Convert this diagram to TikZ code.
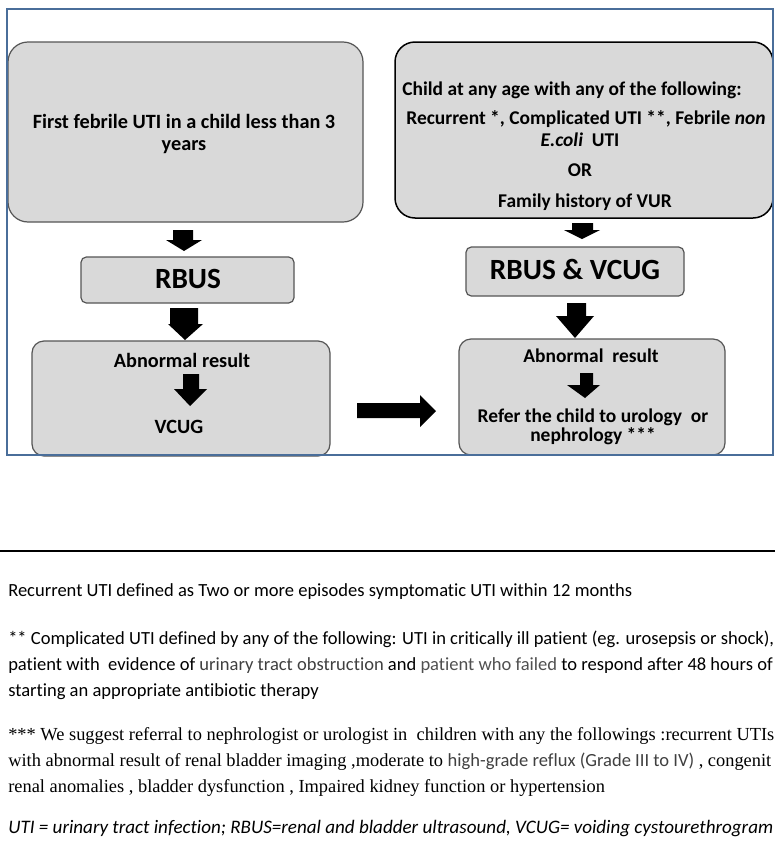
\documentclass[tikz,border=0pt]{standalone}
\usepackage{fontspec}
\setmainfont{Carlito}[Ligatures=NoCommon]
\newfontfamily\timesf{Liberation Serif}
\newdimen\pxu \pxu=0.75pt
\definecolor{boxfill}{HTML}{D9D9D9}
\definecolor{frameblue}{HTML}{4A6E9A}
\definecolor{boxline}{HTML}{555555}
\definecolor{softgray}{HTML}{404040}
\definecolor{midgray}{HTML}{505050}
\tikzset{
  flowbox/.style={draw=boxline, fill=boxfill, line width=1.2\pxu, anchor=north west, inner sep=0pt, outer sep=0pt},
  bigtxt/.style={anchor=base, inner sep=0pt, font=\fontsize{15.2}{18}\selectfont\bfseries},
  midtxt/.style={anchor=base, inner sep=0pt, font=\fontsize{14.6}{17}\selectfont\bfseries},
  hugetxt/.style={anchor=base, inner sep=0pt, font=\fontsize{22}{25}\selectfont\bfseries},
  notetxt/.style={anchor=base west, inner sep=0pt, font=\fontsize{13.9}{16}\selectfont},
  serifnote/.style={anchor=base west, inner sep=0pt, font=\fontsize{13.8}{16}\selectfont\timesf},
}
\newcommand\barrdown[8]{\fill[black] (#1,#3) -- (#2,#3) -- (#2,#4) -- (#6,#4) -- (#7,#8) -- (#5,#4) -- (#1,#4) -- cycle;}
\begin{document}
\begin{tikzpicture}[x=0.75pt,y=-0.75pt]
\useasboundingbox (0,0) rectangle (775,864);
\fill[white] (0,0) rectangle (775,864);

% boxes
\node[flowbox, rounded corners=15pt, minimum width=355\pxu, minimum height=180\pxu] (b1) at (8,42) {};
\node[flowbox, rounded corners=4pt, minimum width=213\pxu, minimum height=46\pxu] (b2) at (81,257) {};
\node[flowbox, rounded corners=9pt, minimum width=298\pxu, minimum height=115\pxu] (b3) at (32,341) {};
\node[flowbox, draw=black, line width=1.5\pxu, rounded corners=15pt, minimum width=378\pxu, minimum height=176\pxu] (b4) at (395,42) {};
\node[flowbox, rounded corners=4pt, minimum width=218\pxu, minimum height=49\pxu] (b5) at (466,247) {};
\node[flowbox, rounded corners=9pt, minimum width=266\pxu, minimum height=116\pxu] (b6) at (459,339) {};

% left column texts
\node[bigtxt] (t1) at (184,128) {First febrile UTI in a child less than 3};
\node[bigtxt] (t2) at (184,150) {years};
\node[hugetxt] (t3) at (188,288) {RBUS};
\node[bigtxt] (t4) at (182,367) {Abnormal result};
\node[bigtxt] (t5) at (179,433) {VCUG};

% right column texts
\node[midtxt] (r1) at (572,95) {Child at any age with any of the following:};
\node[midtxt] (r2) at (586,124) {Recurrent *, Complicated UTI **, Febrile \textit{non}};
\node[midtxt] (r3) at (580,146) {\textit{E.coli}\ \ UTI};
\node[midtxt] (r4) at (580,176) {OR};
\node[midtxt] (r5) at (585,207) {Family history of VUR};
\node[hugetxt] (r6) at (575,279) {RBUS \& VCUG};
\node[midtxt] (r7) at (591,362) {Abnormal\ \ result};
\node[midtxt] (r8) at (593,422) {Refer the child to urology\ \ or};
\node[midtxt] (r9) at (593,441) {nephrology ***};

% block arrows
\barrdown{173}{193}{230}{240}{166}{202}{184}{251}
\barrdown{170}{198}{308}{324}{168}{203}{185}{340}
\barrdown{183}{199}{374}{389}{174}{207}{190}{406}
\barrdown{572}{593}{223}{230}{564}{600}{582}{239}
\barrdown{567}{586}{303}{316}{556}{594}{575}{338}
\barrdown{580}{593}{373}{385}{567}{600}{585}{398}
\fill[black] (357,403) -- (420,403) -- (420,395) -- (436,411) -- (420,427) -- (420,418) -- (357,418) -- cycle;

% outer frame
\draw[frameblue, line width=1.6\pxu] (7,9) rectangle (773,455);

% separator
\coordinate (sl) at (0,551);
\coordinate (sr) at (775,551);
\draw[black, line width=1.1\pxu] (sl) -- (sr);

% footnotes
\node[notetxt] (n1) at (8,596) {Recurrent UTI defined as Two or more episodes symptomatic UTI within 12 months};
\node[notetxt] (n2) at (8,644) {** Complicated UTI defined by any of the following: UTI in critically ill patient (eg. urosepsis or shock),};
\node[notetxt] (n3) at (8,670) {patient with\ \ evidence of \textcolor{softgray}{urinary tract obstruction} and \textcolor{midgray}{patient who failed} to respond after 48 hours of};
\node[notetxt] (n4) at (8,696) {starting an appropriate antibiotic therapy};
\node[serifnote] (n5) at (8,740) {*** We suggest referral to nephrologist or urologist in\ \ children with any the followings :recurrent UTIs};
\node[serifnote] (n6) at (8,766) {with abnormal result of renal bladder imaging ,moderate to {\rmfamily\fontsize{13.9}{16}\selectfont\color{softgray}high-grade reflux (Grade III to IV)} , congenit};
\node[serifnote] (n7) at (8,792) {renal anomalies , bladder dysfunction , Impaired kidney function or hypertension};
\node[notetxt, font=\fontsize{14.3}{16}\selectfont\itshape] (n8) at (8,833) {UTI = urinary tract infection; RBUS=renal and bladder ultrasound, VCUG= voiding cystourethrogram};
\end{tikzpicture}
\end{document}
